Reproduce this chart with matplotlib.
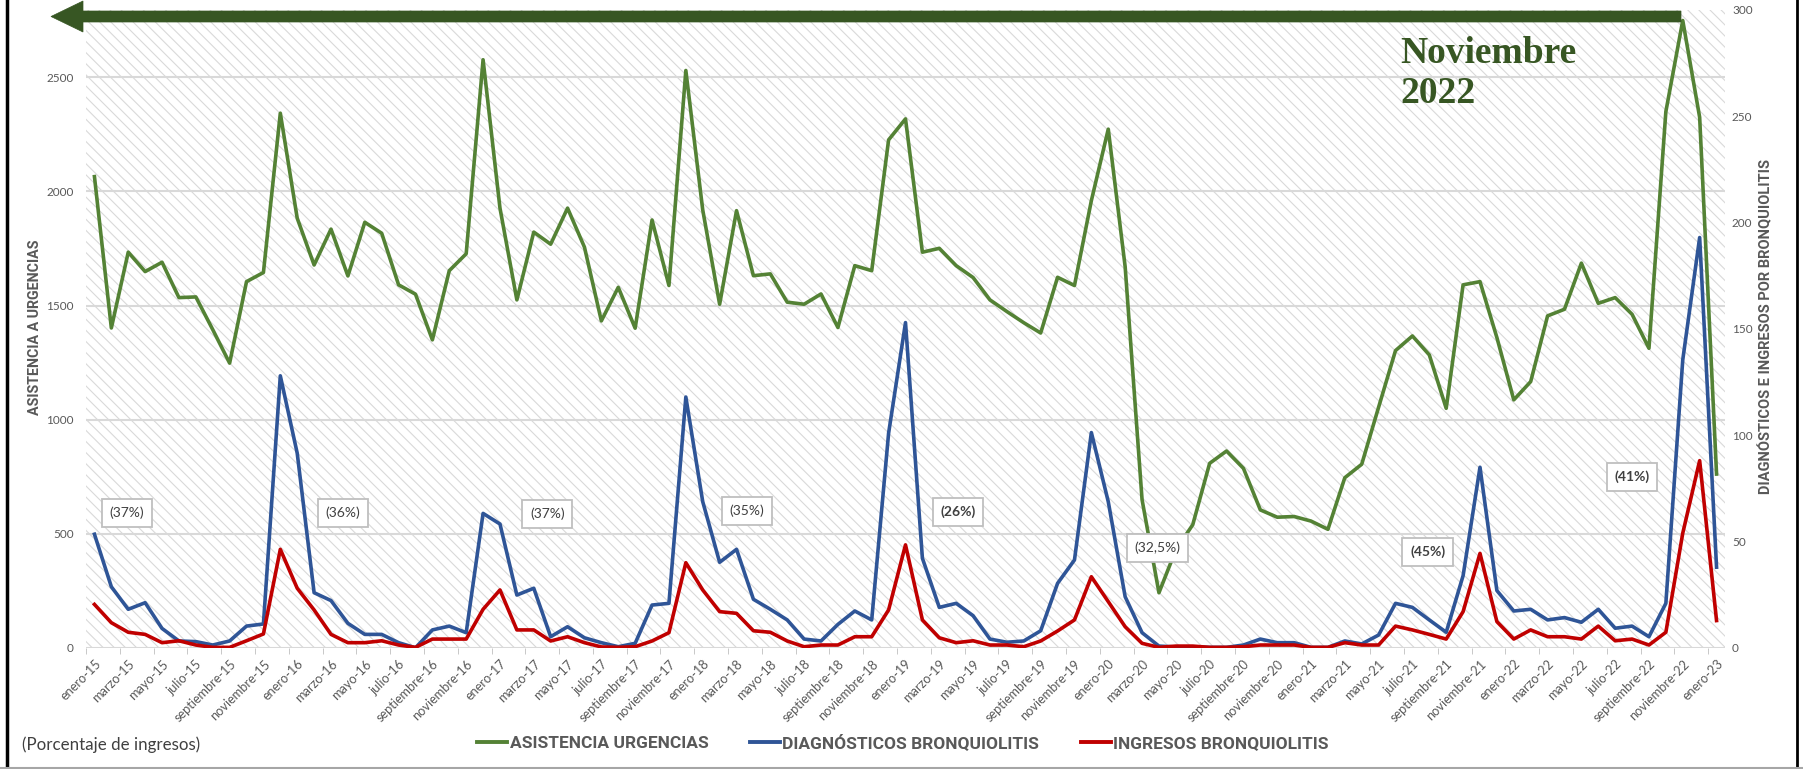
import matplotlib
matplotlib.use('Agg')
import matplotlib.pyplot as plt
from matplotlib.patches import Rectangle, Polygon
from matplotlib.lines import Line2D

plt.rcParams['font.family'] = ['Lato', 'DejaVu Sans']
plt.rcParams['hatch.linewidth'] = 0.8

#------- data (monthly, enero-15 .. enero-23) --------------------------------
meses = ['enero', 'febrero', 'marzo', 'abril', 'mayo', 'junio', 'julio',
         'agosto', 'septiembre', 'octubre', 'noviembre', 'diciembre']
months = ['%s-%02d' % (meses[k % 12], 15 + k // 12) for k in range(97)]

asistencia = [2065, 1402, 1734, 1649, 1690, 1535, 1538, 1395, 1248, 1605,
              1645, 2343, 1883, 1678, 1835, 1630, 1865, 1817, 1591, 1550,
              1350, 1653, 1727, 2577, 1927, 1525, 1822, 1769, 1927, 1756,
              1433, 1580, 1401, 1875, 1588, 2530, 1919, 1506, 1916, 1631,
              1639, 1515, 1506, 1551, 1404, 1675, 1653, 2226, 2318, 1734,
              1751, 1675, 1623, 1525, 1474, 1425, 1380, 1624, 1588, 1960,
              2273, 1670, 650, 242, 430, 540, 809, 863, 787, 605,
              573, 576, 556, 520, 746, 805, 1055, 1303, 1367, 1284,
              1050, 1591, 1605, 1360, 1087, 1167, 1455, 1484, 1686, 1510,
              1535, 1462, 1313, 2350, 2749, 2325, 762]

diagnosticos = [53.5, 28.8, 18.2, 21.3, 9.2, 3.3, 3.0, 1.4, 3.3, 10.3,
                11.3, 128, 91.6, 26, 22.3, 11.6, 6.4, 6.4, 2.5, 0.1,
                8.5, 10.3, 7.2, 63.3, 58.3, 24.9, 28.1, 5.3, 10.0, 4.8,
                2.5, 0.6, 2.2, 20.2, 21.0, 118, 68.8, 40.3, 46.4, 22.9,
                18.2, 13.2, 4.2, 3.3, 11.1, 17.4, 13.2, 101, 153, 42.2,
                19.1, 21.0, 15.2, 4.2, 2.7, 3.3, 8.1, 30.4, 41.4, 101.3,
                68.8, 24.1, 7.2, 0.9, 0.5, 0.5, 0.3, 0.3, 1.4, 4.2,
                2.5, 2.5, 0.3, 0.3, 3.3, 1.9, 6.1, 21, 19.1, 13.2,
                7.4, 34, 85, 27, 17.4, 18.2, 13.2, 14.3, 12.1, 18.2,
                9.3, 10.3, 5.3, 21, 135.5, 193, 38]

ingresos = [20.5, 11.9, 7.4, 6.4, 2.5, 3.4, 1.4, 0.3, 0.3, 3.4,
            6.6, 46.4, 28.1, 17.9, 6.4, 2.5, 2.5, 3.4, 1.4, 0.3,
            4.2, 4.2, 4.2, 18.2, 27.3, 8.5, 8.5, 3.3, 5.3, 2.5,
            0.5, 0.3, 0.6, 3.3, 7.2, 40.1, 27.3, 17.1, 16.3, 8.1,
            7.4, 3.3, 0.6, 1.4, 1.4, 5.3, 5.3, 17.9, 48.5, 13.2,
            4.8, 2.5, 3.4, 1.4, 1.4, 0.6, 3.3, 8.0, 13.2, 33.5,
            21.8, 10.0, 2.2, 0.3, 0.9, 0.9, 0.3, 0.3, 0.6, 1.4,
            1.4, 1.4, 0.3, 0.3, 2.5, 1.4, 1.4, 10.3, 8.5, 6.4,
            4.2, 17.1, 44.5, 12.4, 4.2, 8.5, 5.3, 5.3, 4.2, 10.3,
            3.4, 4.2, 1.4, 7.4, 54, 88.1, 12.9]

# percentage labels: (text, month index, left-axis value, bold)
porcentajes = [('(37%)', 1.9, 592, False), ('(36%)', 14.7, 592, False),
               ('(37%)', 26.8, 587, False), ('(35%)', 38.6, 600, False),
               ('(26%)', 51.1, 596, True), ('(32,5%)', 62.9, 438, False),
               ('(45%)', 78.9, 421, True), ('(41%)', 91.0, 749, True)]

GREEN = '#548235'
BLUE = '#2f5597'
RED = '#c00000'
DARK = '#375623'
GREY = '#595959'
BOLDFONT = ['Roboto', 'DejaVu Sans']

W, H = 1803, 769
fig = plt.figure(figsize=(W / 100, H / 100), dpi=100)
ax = fig.add_axes([86 / W, 1 - 648 / H, (1725 - 86) / W, (648 - 10) / H])
ax2 = ax.twinx()

x = list(range(len(months)))

# hatched plot area
ax.add_patch(Rectangle((0, 0), 1, 1, transform=ax.transAxes, facecolor='white',
                       edgecolor='#d9d9d9', linewidth=0, hatch='\\\\\\', zorder=0))
for v in range(500, 2501, 500):
    ax.axhline(v, color='#d9d9d9', lw=1.5, zorder=1)
ax.axhline(0, color='#d9d9d9', lw=1.5, zorder=1)

ax.plot(x, asistencia, color=GREEN, lw=2.6, zorder=3)
ax2.plot(x, diagnosticos, color=BLUE, lw=2.6, zorder=3)
ax2.plot(x, ingresos, color=RED, lw=2.6, zorder=4)

ax.set_xlim(-0.5, len(months) - 0.5)
ax.set_ylim(0, 2795)
ax2.set_ylim(0, 300)
ax.set_yticks(range(0, 2501, 500))
ax2.set_yticks(range(0, 301, 50))

for a in (ax, ax2):
    for s in a.spines.values():
        s.set_visible(False)
ax.tick_params(axis='y', length=0, pad=9, labelsize=8.5, labelcolor=GREY)
ax2.tick_params(axis='y', length=0, pad=5, labelsize=8.5, labelcolor=GREY)

ax.set_xticks(x[::2])
ax.set_xticklabels(months[::2], rotation=45, ha='right', rotation_mode='anchor',
                   fontsize=9.2, color=GREY)
ax.set_xticks([k + 1.5 for k in range(-2, 96, 2)], minor=True)
ax.tick_params(axis='x', which='major', length=0, pad=7)
ax.tick_params(axis='x', which='minor', length=4, color='#bfbfbf')

# axis titles
fig.text(35 / W, 1 - 327 / H, 'ASISTENCIA A URGENCIAS', rotation=90, ha='center',
         va='center', family=BOLDFONT, fontsize=10.3, fontweight='bold', color=GREY)
fig.text(1766 / W, 1 - 327 / H, 'DIAGNÓSTICOS E INGRESOS POR BRONQUIOLITIS', rotation=90,
         ha='center', va='center', family=BOLDFONT, fontsize=10.5, fontweight='bold', color=GREY)

for txt, xi, yv, bold in porcentajes:
    ax.text(xi, yv, txt, ha='center', va='center', fontsize=10, color='#404040',
            fontweight='bold' if bold else 'normal', zorder=6,
            bbox=dict(boxstyle='square,pad=0.55', fc='white', ec='#bfbfbf', lw=1.3))

# arrow across the top
arrow = [(51, 16.5), (83, 1), (83, 11), (1681, 11), (1681, 22), (83, 22), (83, 32)]
fig.patches.append(Polygon([(px / W, 1 - py / H) for px, py in arrow], closed=True,
                           transform=fig.transFigure, facecolor=DARK, edgecolor=DARK,
                           lw=0.5, zorder=10))
fig.text(1400 / W, 1 - 36 / H, 'Noviembre\n2022', ha='left', va='top',
         family='Liberation Serif', fontweight='bold', fontsize=27, color=DARK,
         linespacing=1.2)

# legend
handles = [Line2D([], [], color=GREEN, lw=2.8), Line2D([], [], color=BLUE, lw=2.8),
           Line2D([], [], color=RED, lw=2.8)]
leg = fig.legend(handles, ['ASISTENCIA URGENCIAS', 'DIAGNÓSTICOS BRONQUIOLITIS',
                           'INGRESOS BRONQUIOLITIS'],
                 loc='center', bbox_to_anchor=(903 / W, 1 - 743 / H), ncol=3,
                 frameon=False, handlelength=1.75, handletextpad=0.12,
                 columnspacing=2.4, prop={'family': BOLDFONT, 'weight': 'bold', 'size': 12.5})
for t in leg.get_texts():
    t.set_color(GREY)

fig.text(22 / W, 1 - 745 / H, '(Porcentaje de ingresos)', ha='left', va='center',
         fontsize=12.2, color='#404040')

# frame around the figure
fig.lines.append(Line2D([7 / W, 7 / W], [0, 1], color='black', lw=2.5, transform=fig.transFigure))
fig.lines.append(Line2D([1797 / W, 1797 / W], [0, 1], color='black', lw=2, transform=fig.transFigure))
fig.lines.append(Line2D([0, 1], [1.5 / H, 1.5 / H], color='#a6a6a6', lw=1.5, transform=fig.transFigure))

fig.savefig('out.png', dpi=100)
